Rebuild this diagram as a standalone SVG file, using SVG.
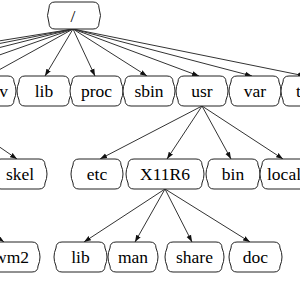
<svg xmlns="http://www.w3.org/2000/svg" width="300" height="300" viewBox="0 0 300 300">
<style>
.n{fill:#fff;stroke:#222;stroke-width:1}
.t{font-family:"Liberation Serif","Times New Roman",serif;font-size:17.5px;fill:#000;text-anchor:middle}
.e{stroke:#333;stroke-width:1;fill:none;marker-end:url(#ah)}
</style>
<defs>
<marker id="ah" markerUnits="userSpaceOnUse" markerWidth="8" markerHeight="6" refX="7" refY="3" orient="auto">
<path d="M0,0.5 L7,3 L0,5.5 z" fill="#111"/>
</marker>
</defs>
<rect width="300" height="300" fill="#fff"/>
<g id="edges">
<line class="e" x1="73" y1="29" x2="-218" y2="76"/>
<line class="e" x1="73" y1="29" x2="-165" y2="76"/>
<line class="e" x1="73" y1="29" x2="-113" y2="76"/>
<line class="e" x1="73" y1="29" x2="-60" y2="76"/>
<line class="e" x1="73" y1="29" x2="-12" y2="76"/>
<line class="e" x1="73" y1="29" x2="45" y2="76"/>
<line class="e" x1="73" y1="29" x2="95" y2="76"/>
<line class="e" x1="73" y1="29" x2="147" y2="76"/>
<line class="e" x1="73" y1="29" x2="199" y2="76"/>
<line class="e" x1="73" y1="29" x2="252" y2="76"/>
<line class="e" x1="73" y1="29" x2="305" y2="76"/>
<line class="e" x1="202" y1="106" x2="100" y2="159"/>
<line class="e" x1="202" y1="106" x2="167" y2="159"/>
<line class="e" x1="202" y1="106" x2="231" y2="159"/>
<line class="e" x1="202" y1="106" x2="283" y2="159"/>
<line class="e" x1="-60" y1="106" x2="17" y2="159"/>
<line class="e" x1="-40" y1="210" x2="4" y2="242"/>
<line class="e" x1="165" y1="189" x2="84" y2="242"/>
<line class="e" x1="165" y1="189" x2="135" y2="242"/>
<line class="e" x1="165" y1="189" x2="192" y2="242"/>
<line class="e" x1="165" y1="189" x2="250" y2="242"/>
</g>
<g id="root"><path class="n" d="M55,2 H93 Q99,2 99,8 Q102,15.5 99,23 Q99,29 93,29 H55 Q49,29 49,23 Q46,15.5 49,8 Q49,2 55,2 Z"/><text class="t" x="73" y="21.5">/</text></g>
<g id="dev"><path class="n" d="M-28,76 H8 Q14,76 14,82 Q18,91 14,100 Q14,106 8,106 H-28 Q-34,106 -34,100 Q-38,91 -34,82 Q-34,76 -28,76 Z"/><text class="t" x="8" y="97" style="text-anchor:end">dev</text></g>
<g id="lib"><path class="n" d="M25,76 H63 Q69,76 69,82 Q73,91 69,100 Q69,106 63,106 H25 Q19,106 19,100 Q15,91 19,82 Q19,76 25,76 Z"/><text class="t" x="44" y="97">lib</text></g>
<g id="proc"><path class="n" d="M78,76 H115 Q121,76 121,82 Q125,91 121,100 Q121,106 115,106 H78 Q72,106 72,100 Q68,91 72,82 Q72,76 78,76 Z"/><text class="t" x="96.5" y="97">proc</text></g>
<g id="sbin"><path class="n" d="M131,76 H167 Q173,76 173,82 Q177,91 173,100 Q173,106 167,106 H131 Q125,106 125,100 Q121,91 125,82 Q125,76 131,76 Z"/><text class="t" x="149" y="97">sbin</text></g>
<g id="usr"><path class="n" d="M184,76 H220 Q226,76 226,82 Q230,91 226,100 Q226,106 220,106 H184 Q178,106 178,100 Q174,91 178,82 Q178,76 184,76 Z"/><text class="t" x="202" y="97">usr</text></g>
<g id="var"><path class="n" d="M237,76 H273 Q279,76 279,82 Q283,91 279,100 Q279,106 273,106 H237 Q231,106 231,100 Q227,91 231,82 Q231,76 237,76 Z"/><text class="t" x="255" y="97">var</text></g>
<g id="tmp"><path class="n" d="M289,76 H325 Q331,76 331,82 Q335,91 331,100 Q331,106 325,106 H289 Q283,106 283,100 Q279,91 283,82 Q283,76 289,76 Z"/><text class="t" x="296" y="97" style="text-anchor:start">tmp</text></g>
<g id="skel"><path class="n" d="M1,159 H39 Q45,159 45,165 Q49,174 45,183 Q45,189 39,189 H1 Q-5,189 -5,183 Q-9,174 -5,165 Q-5,159 1,159 Z"/><text class="t" x="20" y="180">skel</text></g>
<g id="etc"><path class="n" d="M79,159 H115 Q121,159 121,165 Q125,174 121,183 Q121,189 115,189 H79 Q73,189 73,183 Q69,174 73,165 Q73,159 79,159 Z"/><text class="t" x="97" y="180">etc</text></g>
<g id="X11R6"><path class="n" d="M134,159 H196 Q202,159 202,165 Q206,174 202,183 Q202,189 196,189 H134 Q128,189 128,183 Q124,174 128,165 Q128,159 134,159 Z"/><text class="t" x="165" y="180">X11R6</text></g>
<g id="bin"><path class="n" d="M214,159 H252 Q258,159 258,165 Q262,174 258,183 Q258,189 252,189 H214 Q208,189 208,183 Q204,174 208,165 Q208,159 214,159 Z"/><text class="t" x="233" y="180">bin</text></g>
<g id="local"><path class="n" d="M268,159 H304 Q310,159 310,165 Q314,174 310,183 Q310,189 304,189 H268 Q262,189 262,183 Q258,174 262,165 Q262,159 268,159 Z"/><text class="t" x="267" y="180" style="text-anchor:start">local</text></g>
<g id="fvwm2"><path class="n" d="M-4,242 H32 Q38,242 38,248 Q42,257 38,266 Q38,272 32,272 H-4 Q-10,272 -10,266 Q-14,257 -10,248 Q-10,242 -4,242 Z"/><text class="t" x="29" y="263" style="text-anchor:end">fvwm2</text></g>
<g id="lib2"><path class="n" d="M62,242 H99 Q105,242 105,248 Q109,257 105,266 Q105,272 99,272 H62 Q56,272 56,266 Q52,257 56,248 Q56,242 62,242 Z"/><text class="t" x="80.5" y="263">lib</text></g>
<g id="man"><path class="n" d="M116,242 H150 Q156,242 156,248 Q160,257 156,266 Q156,272 150,272 H116 Q110,272 110,266 Q106,257 110,248 Q110,242 116,242 Z"/><text class="t" x="133" y="263">man</text></g>
<g id="share"><path class="n" d="M173,242 H216 Q222,242 222,248 Q226,257 222,266 Q222,272 216,272 H173 Q167,272 167,266 Q163,257 167,248 Q167,242 173,242 Z"/><text class="t" x="194.5" y="263">share</text></g>
<g id="doc"><path class="n" d="M237,242 H274 Q280,242 280,248 Q284,257 280,266 Q280,272 274,272 H237 Q231,272 231,266 Q227,257 231,248 Q231,242 237,242 Z"/><text class="t" x="255.5" y="263">doc</text></g>
</svg>
